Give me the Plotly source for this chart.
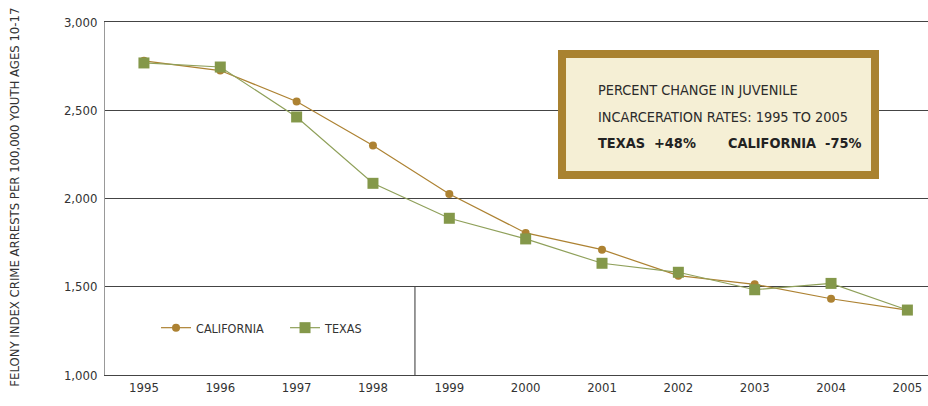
import plotly.graph_objects as go

years = [1995, 1996, 1997, 1998, 1999, 2000, 2001, 2002, 2003, 2004, 2005]
california = [2780, 2725, 2550, 2300, 2025, 1805, 1710, 1563, 1514, 1432, 1368]
texas = [2768, 2745, 2462, 2086, 1888, 1771, 1633, 1582, 1483, 1519, 1368]
y_ticks = [1000, 1500, 2000, 2500, 3000]

CA_COLOR = "#AD8232"
TX_COLOR = "#84984A"
TX_LINE = "#8FA05A"
FONT = "DejaVu Sans Condensed, Liberation Sans Narrow, Arial Narrow, sans-serif"

fig = go.Figure()
fig.add_trace(go.Scatter(
    x=years, y=california, name="CALIFORNIA", mode="lines+markers",
    line=dict(color=CA_COLOR, width=1.2),
    marker=dict(symbol="circle", size=8, color=CA_COLOR),
))
fig.add_trace(go.Scatter(
    x=years, y=texas, name="TEXAS", mode="lines+markers",
    line=dict(color=TX_LINE, width=1.2),
    marker=dict(symbol="square", size=11, color=TX_COLOR),
))

# legend enclosure vertical line
fig.add_shape(type="line", xref="x", yref="y", x0=1998.55, x1=1998.55, y0=1000, y1=1500,
              line=dict(color="#333333", width=1), layer="below")

# annotation box
fig.add_shape(type="rect", xref="paper", yref="paper",
              x0=0.5553, x1=0.9356, y0=0.5666, y1=0.9093,
              fillcolor="#F5EFD5", line=dict(color="#A98230", width=8), layer="above")

BOX_SIZE = 14.4
fig.add_annotation(xref="paper", yref="paper", x=0.5966, y=0.807, xanchor="left", yanchor="middle",
                   text="PERCENT CHANGE IN JUVENILE", showarrow=False,
                   font=dict(family=FONT, size=BOX_SIZE, color="#2b2b2b"))
fig.add_annotation(xref="paper", yref="paper", x=0.5966, y=0.731, xanchor="left", yanchor="middle",
                   text="INCARCERATION RATES: 1995 TO 2005", showarrow=False,
                   font=dict(family=FONT, size=BOX_SIZE, color="#2b2b2b"))
fig.add_annotation(xref="paper", yref="paper", x=0.5966, y=0.657, xanchor="left", yanchor="middle",
                   text="<b>TEXAS  +48%</b>", showarrow=False,
                   font=dict(family=FONT, size=BOX_SIZE, color="#222222"))
fig.add_annotation(xref="paper", yref="paper", x=0.755, y=0.657, xanchor="left", yanchor="middle",
                   text="<b>CALIFORNIA  -75%</b>", showarrow=False,
                   font=dict(family=FONT, size=BOX_SIZE, color="#222222"))

# y-axis title
fig.add_annotation(xref="paper", yref="paper", x=-0.1094, y=0.505, xanchor="center", yanchor="middle",
                   text="FELONY INDEX CRIME ARRESTS PER 100,000 YOUTH AGES 10-17", textangle=-90,
                   showarrow=False, font=dict(family=FONT, size=13, color="#333333"))

TICK_SIZE = 13
fig.update_layout(
    width=928, height=406,
    margin=dict(l=105, r=0, t=22, b=31),
    paper_bgcolor="white", plot_bgcolor="white",
    font=dict(family=FONT, size=TICK_SIZE, color="#333333"),
    showlegend=True,
    legend=dict(orientation="h", x=0.062, y=0.133, xanchor="left", yanchor="middle",
                bgcolor="rgba(0,0,0,0)", font=dict(family=FONT, size=12.5, color="#333333"),
                itemwidth=30, tracegroupgap=0, entrywidth=84, entrywidthmode="pixels"),
    xaxis=dict(range=[1994.49, 2005.27], tickmode="array", tickvals=years,
               ticktext=[str(y) for y in years], showgrid=False, zeroline=False,
               showline=True, mirror=True, linecolor="#444444", linewidth=1,
               ticks="", ticklen=0, automargin=False,
               tickfont=dict(family=FONT, size=TICK_SIZE, color="#333333")),
    yaxis=dict(range=[1000, 3000], tickmode="array", tickvals=y_ticks,
               tickformat=",", showgrid=True, gridcolor="#444444", gridwidth=1,
               zeroline=False, showline=True, linecolor="#999999", linewidth=1,
               ticks="", automargin=False, ticklabelstandoff=4,
               tickfont=dict(family=FONT, size=TICK_SIZE, color="#333333")),
)

fig.write_html("out.html", config={"displayModeBar": False},
               post_script="document.body.style.margin='0';document.body.style.padding='0';")
